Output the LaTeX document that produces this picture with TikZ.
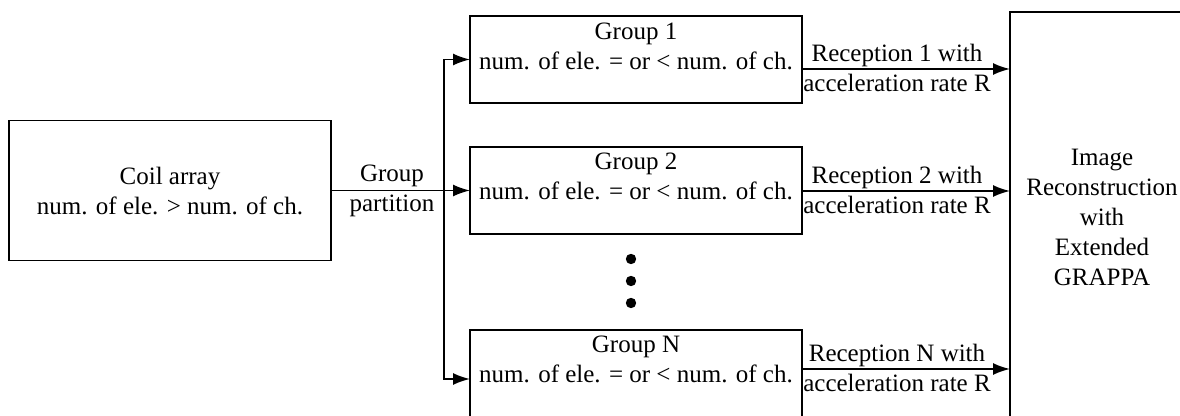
\documentclass[tikz,border=0pt]{standalone}
\usepackage{fontspec}
\setmainfont{Liberation Serif}
\usetikzlibrary{arrows.meta}
\begin{document}
\begin{tikzpicture}[x=0.5pt,y=-0.5pt,
  box/.style={draw,line width=0.9pt,inner sep=0pt,outer sep=0pt,rectangle},
  txt/.style={align=center,inner sep=0pt,font=\fontsize{12.5}{15}\selectfont},
  arr/.style={line width=0.9pt,-{Latex[length=8.5pt,width=6pt]}}]
\useasboundingbox (0,0) rectangle (1180,416);
% boxes
\node[box,minimum width=161pt,minimum height=70pt] (coil) at (170,190.5) {};
\node[txt] (coilt) at (170,191) {Coil array\\num. of ele. > num. of ch.};
\node[box,minimum width=166pt,minimum height=43.5pt] (g1) at (636,59.5) {};
\node[box,minimum width=166pt,minimum height=43.5pt] (g2) at (636,190.5) {};
\node[box,minimum width=166pt,minimum height=49pt] (gN) at (636,379) {};
\node[txt] (g1t) at (636,46) {Group 1\\num. of ele. = or < num. of ch.};
\node[txt] (g2t) at (636,176.5) {Group 2\\num. of ele. = or < num. of ch.};
\node[txt] (gNt) at (636,359) {Group N\\num. of ele. = or < num. of ch.};
\node[box,minimum width=95pt,minimum height=209pt] (img) at (1105,221) {};
\node[txt] (imgt) at (1102,217) {Image\\Reconstruction\\with\\Extended\\GRAPPA};
% labels
\node[txt] (gp) at (392,191) {Group\\partition};
\node[txt] (r1) at (897,68) {Reception 1 with\\acceleration rate R};
\node[txt] (r2) at (897,190) {Reception 2 with\\acceleration rate R};
\node[txt] (rN) at (897,368) {Reception N with\\acceleration rate R};
% dots
\fill (631,259) circle (2.6pt);
\fill (631,281) circle (2.6pt);
\fill (631,303) circle (2.6pt);
% connectors
\coordinate (sp) at (444,190.5);
\coordinate (o1) at (802,69);
\coordinate (o2) at (802,191);
\coordinate (oN) at (802,369);
\draw[arr] (coil) -- (g2);
\draw[arr] (sp) |- (g1);
\draw[arr] (sp) |- (gN);
\draw[arr] (g1.east |- o1) -- (img.west |- o1);
\draw[arr] (g2.east |- o2) -- (img.west |- o2);
\draw[arr] (gN.east |- oN) -- (img.west |- oN);
\end{tikzpicture}
\end{document}
